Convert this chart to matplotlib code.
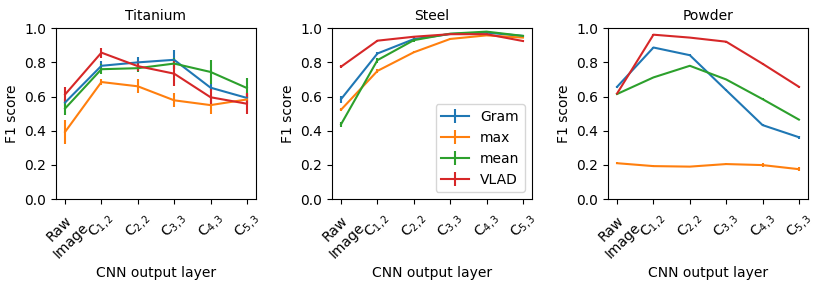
import numpy as np
import matplotlib
matplotlib.use("Agg")
import matplotlib.pyplot as plt

layers = ["Raw\nImage", r"$\mathrm{C}_{1,2}$", r"$\mathrm{C}_{2,2}$", r"$\mathrm{C}_{3,3}$",
          r"$\mathrm{C}_{4,3}$", r"$\mathrm{C}_{5,3}$"]
methods = ["Gram", "max", "mean", "VLAD"]
titles = ["Titanium", "Steel", "Powder"]

# Titanium
ti_gram = [0.565, 0.78, 0.80, 0.815, 0.652, 0.592]
ti_max = [0.393, 0.685, 0.66, 0.578, 0.55, 0.583]
ti_mean = [0.53, 0.76, 0.766, 0.793, 0.744, 0.65]
ti_vlad = [0.612, 0.857, 0.778, 0.734, 0.596, 0.558]
ti_gram_err = [0.02, 0.03, 0.03, 0.055, 0.02, 0.03]
ti_max_err = [0.07, 0.015, 0.04, 0.04, 0.05, 0.03]
ti_mean_err = [0.04, 0.03, 0.02, 0.03, 0.07, 0.06]
ti_vlad_err = [0.045, 0.03, 0.03, 0.075, 0.05, 0.06]

# Steel
st_gram = [0.585, 0.852, 0.936, 0.966, 0.974, 0.955]
st_max = [0.523, 0.75, 0.859, 0.937, 0.958, 0.945]
st_mean = [0.438, 0.813, 0.93, 0.968, 0.98, 0.955]
st_vlad = [0.775, 0.927, 0.95, 0.965, 0.965, 0.925]
st_gram_err = [0.02, 0.01, 0.01, 0.005, 0.005, 0.005]
st_max_err = [0.01, 0.01, 0.005, 0.005, 0.005, 0.005]
st_mean_err = [0.015, 0.015, 0.01, 0.005, 0.005, 0.005]
st_vlad_err = [0.01, 0.005, 0.005, 0.005, 0.005, 0.005]

# Powder
pw_gram = [0.657, 0.887, 0.842, 0.637, 0.433, 0.362]
pw_max = [0.21, 0.193, 0.19, 0.205, 0.199, 0.175]
pw_mean = [0.615, 0.712, 0.78, 0.70, 0.585, 0.465]
pw_vlad = [0.618, 0.962, 0.945, 0.921, 0.792, 0.657]
pw_gram_err = [0.005, 0.005, 0.005, 0.005, 0.005, 0.01]
pw_max_err = [0.005, 0.005, 0.005, 0.005, 0.01, 0.01]
pw_mean_err = [0.005, 0.005, 0.005, 0.005, 0.005, 0.005]
pw_vlad_err = [0.005, 0.005, 0.005, 0.005, 0.005, 0.005]

data = [
    [(ti_gram, ti_gram_err), (ti_max, ti_max_err), (ti_mean, ti_mean_err), (ti_vlad, ti_vlad_err)],
    [(st_gram, st_gram_err), (st_max, st_max_err), (st_mean, st_mean_err), (st_vlad, st_vlad_err)],
    [(pw_gram, pw_gram_err), (pw_max, pw_max_err), (pw_mean, pw_mean_err), (pw_vlad, pw_vlad_err)],
]

fig, axes = plt.subplots(1, 3, figsize=(8.17, 2.82), dpi=100)
fig.subplots_adjust(left=0.0685, right=0.989, bottom=0.294, top=0.9, wspace=0.38)

x = np.arange(len(layers))
for ax, title, series in zip(axes, titles, data):
    for name, (vals, err) in zip(methods, series):
        ax.errorbar(x, vals, yerr=err, label=name)
    ax.set_title(title, fontsize=10)
    ax.set_ylim(0, 1.0)
    ax.set_xticks(x)
    ax.set_xticklabels(layers, rotation=45)
    ax.set_ylabel("F1 score")
    ax.set_xlabel("CNN output layer")

axes[1].legend(loc="lower right")

fig.savefig("out.png")
